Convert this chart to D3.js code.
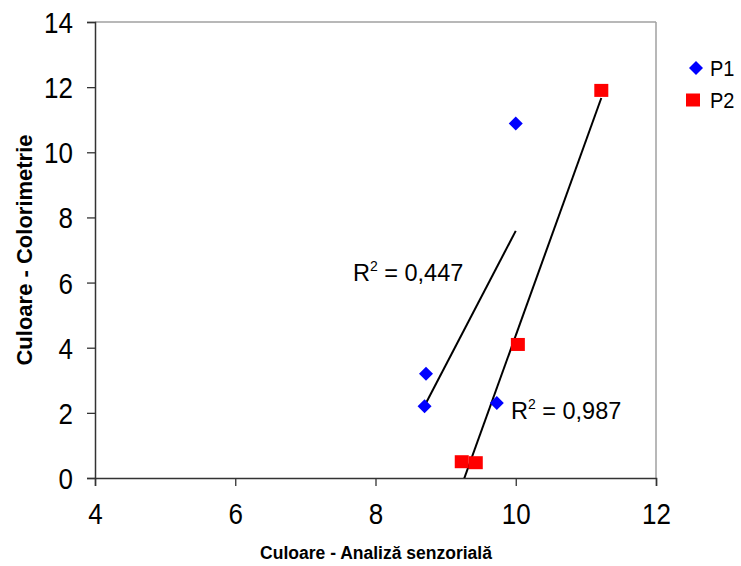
<!DOCTYPE html>
<html><head><meta charset="utf-8">
<script src="https://cdn.jsdelivr.net/npm/d3@7"></script>
<style>body{margin:0;background:#fff;} text{font-family:Arial,"Liberation Sans",sans-serif;}</style>
</head><body>
<svg id="c" width="741" height="566"></svg>
<script>
const seriesNames = ["P1", "P2"];
const p1X = [8.72, 8.70, 9.73, 10.0];
const p1Y = [3.2, 2.2, 2.3, 10.88];
const p2X = [11.22, 10.03, 9.23, 9.43];
const p2Y = [11.9, 4.1, 0.5, 0.47];
const xTicks = [4, 6, 8, 10, 12];
const yTicks = [0, 2, 4, 6, 8, 10, 12, 14];
const r2Labels = ["0,447", "0,987"];
const xTitle = "Culoare - Analiză senzorială";
const yTitle = "Culoare - Colorimetrie";

const svg = d3.select("#c");
const L = 95, R = 656, T = 22, B = 478;
const x = d3.scaleLinear().domain([4, 12]).range([L, R]);
const y = d3.scaleLinear().domain([0, 14]).range([B, T]);
const SY = 1.12;

svg.append("defs").append("clipPath").attr("id", "pa")
  .append("rect").attr("x", L).attr("y", T).attr("width", R - L).attr("height", B - T);

// border top/right
svg.append("line").attr("x1", L).attr("x2", R).attr("y1", T).attr("y2", T).attr("stroke", "#a0a0a0").attr("stroke-width", 1.5);
svg.append("line").attr("x1", R).attr("x2", R).attr("y1", T).attr("y2", B).attr("stroke", "#a0a0a0").attr("stroke-width", 1.5);

// axes
const xa = svg.append("g").attr("transform", `translate(0,${B})`)
  .call(d3.axisBottom(x).tickValues(xTicks).tickSize(8).tickPadding(14).tickFormat(d3.format("d")));
const ya = svg.append("g").attr("transform", `translate(${L},0)`)
  .call(d3.axisLeft(y).tickValues(yTicks).tickSize(8).tickPadding(14).tickFormat(d3.format("d")));
[xa, ya].forEach(g => {
  g.select(".domain").attr("stroke", "#333").attr("stroke-width", 1.5);
  g.selectAll(".tick line").attr("stroke", "#333").attr("stroke-width", 1.3);
  g.selectAll(".tick text").attr("font-size", 26).attr("fill", "#000")
    .style("font-family", "Arial, 'Liberation Sans', sans-serif");
});
xa.selectAll(".tick text").attr("dy", null).attr("y", 46 / SY).attr("transform", `scale(1,${SY})`);
ya.selectAll(".tick text").attr("x", -22).attr("dy", "0.36em").attr("transform", `scale(1,${SY})`);

// trendlines
function fit(xs, ys) {
  const mx = d3.mean(xs), my = d3.mean(ys);
  let sxy = 0, sxx = 0;
  xs.forEach((v, i) => { sxy += (v - mx) * (ys[i] - my); sxx += (v - mx) * (v - mx); });
  const b = sxy / sxx, a = my - b * mx;
  const x0 = d3.min(xs), x1 = d3.max(xs);
  return [[x0, a + b * x0], [x1, a + b * x1]];
}
const gl = svg.append("g").attr("clip-path", "url(#pa)");
[[p1X, p1Y], [p2X, p2Y]].forEach(([xs, ys]) => {
  const f = fit(xs, ys);
  gl.append("line").attr("x1", x(f[0][0])).attr("y1", y(f[0][1]))
    .attr("x2", x(f[1][0])).attr("y2", y(f[1][1]))
    .attr("stroke", "#000").attr("stroke-width", 2);
});

// markers
const diamond = d3.symbol().type(d3.symbolSquare).size(98);
p1X.forEach((v, i) => {
  svg.append("path").attr("d", diamond())
    .attr("transform", `translate(${x(v)},${y(p1Y[i])}) rotate(45)`).attr("fill", "#0000ff");
});
p2X.forEach((v, i) => {
  svg.append("rect").attr("x", x(v) - 7).attr("y", y(p2Y[i]) - 6.5)
    .attr("width", 14).attr("height", 13).attr("fill", "#ff0000");
});

// R2 labels
function r2(xp, yp, val) {
  const t = svg.append("text").attr("transform", `translate(${xp},${yp}) scale(1,1.05)`)
    .attr("font-size", 23.5).attr("fill", "#000");
  t.append("tspan").text("R");
  t.append("tspan").attr("font-size", 14).attr("dy", -10).text("2");
  t.append("tspan").attr("dy", 10).text(" = " + val);
}
r2(353, 281, r2Labels[0]);
r2(511, 419, r2Labels[1]);

// legend
const lg = svg.append("g");
lg.append("path").attr("d", diamond()).attr("transform", "translate(696,68) rotate(45)").attr("fill", "#0000ff");
lg.append("rect").attr("x", 686).attr("y", 93.5).attr("width", 14).attr("height", 13).attr("fill", "#ff0000");
lg.append("text").attr("transform", "translate(710,75.5) scale(1,1.12)").attr("font-size", 20).text(seriesNames[0]);
lg.append("text").attr("transform", "translate(710,107.5) scale(1,1.12)").attr("font-size", 20).text(seriesNames[1]);

// titles
svg.append("text").attr("x", 376).attr("y", 559).attr("text-anchor", "middle")
  .attr("font-size", 17.5).attr("font-weight", "bold").text(xTitle);
svg.append("text").attr("transform", "translate(32,250) rotate(-90)").attr("text-anchor", "middle")
  .attr("font-size", 22).attr("font-weight", "bold").text(yTitle);
</script>
</body></html>
